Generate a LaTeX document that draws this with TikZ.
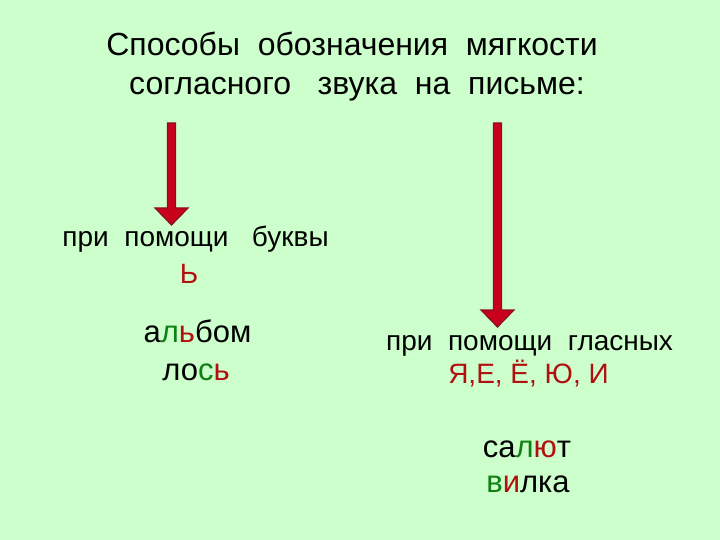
\documentclass[tikz,border=0pt]{standalone}
\usepackage{fontspec}
\setmainfont{Liberation Sans}
\definecolor{bg}{HTML}{CCFFCC}
\definecolor{darkred}{HTML}{B01010}
\definecolor{dgreen}{HTML}{108010}
\definecolor{arrowfill}{HTML}{C8001C}
\definecolor{arrowline}{HTML}{8A1020}
\tikzset{
  txt/.style={anchor=base, inner sep=0pt, text=black},
  arr/.style={fill=arrowfill, draw=arrowline, line width=1.2pt, line join=miter},
}
\newcommand{\rd}[1]{\textcolor{darkred}{#1}}
\newcommand{\gr}[1]{\textcolor{dgreen}{#1}}
\begin{document}
\begin{tikzpicture}[x=1pt,y=-1pt]
\fill[bg] (0,0) rectangle (720,540);
\useasboundingbox (0,0) rectangle (720,540);
% title
\node[txt, font=\fontsize{32}{36}\selectfont] (t1) at (352,56) {Способы\ \ обозначения\ \ мягкости};
\node[txt, font=\fontsize{32}{36}\selectfont] (t2) at (357,95) {согласного\ \ \ звука\ \ на\ \ письме:};
% arrows
\draw[arr] (167.5,123) -- (175.5,123) -- (175.5,208) -- (188,208) -- (171.5,225) -- (155,208) -- (167.5,208) -- cycle;
\draw[arr] (493.5,123) -- (501.5,123) -- (501.5,310) -- (514,310) -- (497.5,327) -- (481,310) -- (493.5,310) -- cycle;
% left
\node[txt, font=\fontsize{28}{32}\selectfont] (l1) at (195.5,247) {при\ \ помощи\ \ \ буквы};
\node[txt, font=\fontsize{28}{32}\selectfont, text=darkred] (l2) at (189,283) {Ь};
\node[txt, font=\fontsize{31}{35}\selectfont] (w1) at (197.5,342) {а\gr{л}\rd{ь}бом};
\node[txt, font=\fontsize{31}{35}\selectfont] (w2) at (196,380) {ло\gr{с}\rd{ь}};
% right
\node[txt, font=\fontsize{28}{32}\selectfont] (r1) at (529.5,350) {при\ \ помощи\ \ гласных};
\node[txt, font=\fontsize{28}{32}\selectfont, text=darkred] (r2) at (528.5,383) {Я,Е,\ Ё,\ Ю,\ И};
\node[txt, font=\fontsize{31}{35}\selectfont] (w3) at (527,457) {са\gr{л}\rd{ю}т};
\node[txt, font=\fontsize{31}{35}\selectfont] (w4) at (528,492) {\gr{в}\rd{и}лка};
\end{tikzpicture}
\end{document}
